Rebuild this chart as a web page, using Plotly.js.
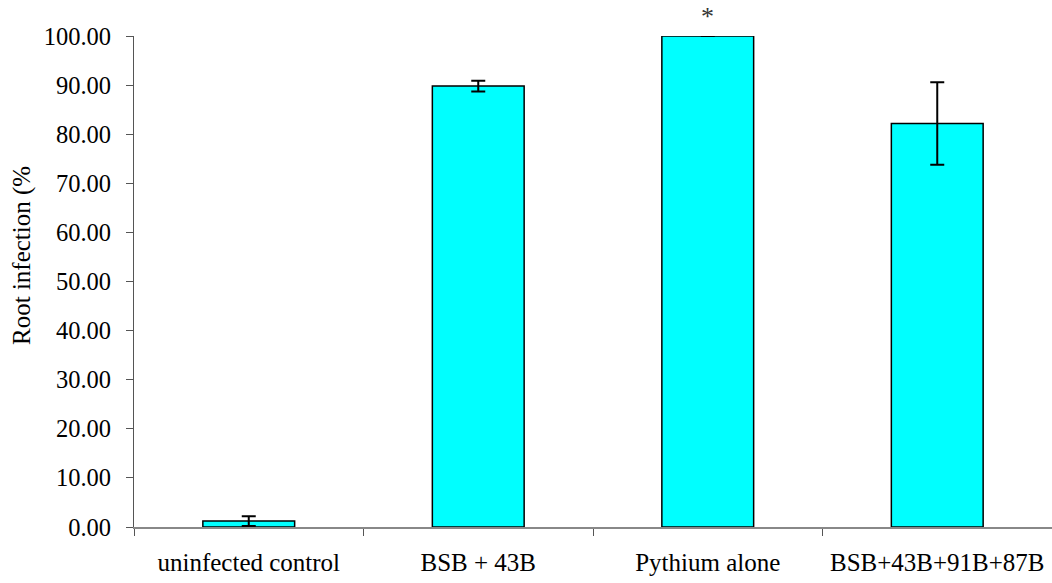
<!DOCTYPE html>
<html>
<head>
<meta charset="utf-8">
<script src="https://cdn.plot.ly/plotly-3.0.1.min.js"></script>
<style>html,body{margin:0;padding:0;background:#fff;}#chart{width:1052px;height:583px;}</style>
</head>
<body>
<div id="chart"></div>
<script>
// Root infection by treatment, mean with error
const categories = ["uninfected control", "BSB + 43B", "Pythium alone", "BSB+43B+91B+87B"];
const infection = [1.2, 89.8, 100.0, 82.2];
const errors = [1.0, 1.1, 0.0, 8.4];
const yTicks = [0, 10, 20, 30, 40, 50, 60, 70, 80, 90, 100];
const yTitle = "Root infection (%";
const markerLabel = "*";
const markedCategory = "Pythium alone";

const serif = "Liberation Serif, Times New Roman, serif";

Plotly.newPlot("chart", [{
  type: "bar",
  x: categories,
  y: infection,
  marker: {color: "#00ffff", line: {color: "#000", width: 1.5}},
  error_y: {type: "data", array: errors, visible: true, color: "#000", thickness: 2, width: 7}
}], {
  width: 1052, height: 583,
  margin: {l: 134, r: 0, t: 36, b: 56},
  paper_bgcolor: "#fff", plot_bgcolor: "#fff",
  bargap: 0.6,
  showlegend: false,
  xaxis: {
    type: "category",
    showline: true, linecolor: "#888", linewidth: 2,
    ticks: "outside", tickson: "boundaries", ticklen: 7, tickcolor: "#555", tickwidth: 1,
    showgrid: false, zeroline: false,
    ticklabelstandoff: 12,
    tickfont: {family: serif, size: 25, color: "#000"}
  },
  yaxis: {
    range: [0, 100],
    tickvals: yTicks, tickformat: ".2f",
    showline: true, linecolor: "#555", linewidth: 1,
    ticks: "outside", ticklen: 7, tickcolor: "#555",
    showgrid: false, zeroline: false,
    ticklabelstandoff: 10,
    tickfont: {family: serif, size: 24.5, color: "#000"}
  },
  annotations: [{
    x: markedCategory, y: 100, xref: "x", yref: "y",
    text: markerLabel, showarrow: false, yanchor: "middle", yshift: 20,
    font: {family: serif, size: 26, color: "#333"}
  }, {
    x: 0, xref: "paper", xanchor: "center",
    y: 0.552, yref: "paper", yanchor: "middle",
    text: yTitle, textangle: -90, showarrow: false,
    font: {family: serif, size: 25, color: "#000"}
  }]
}, {displayModeBar: false, staticPlot: true});

// place the rotated axis caption at a fixed pixel column left of the axis
const gd = document.getElementById("chart");
const plotW = gd._fullLayout._size.w;
Plotly.relayout(gd, {"annotations[1].x": (22 - 134) / plotW});
</script>
</body>
</html>
